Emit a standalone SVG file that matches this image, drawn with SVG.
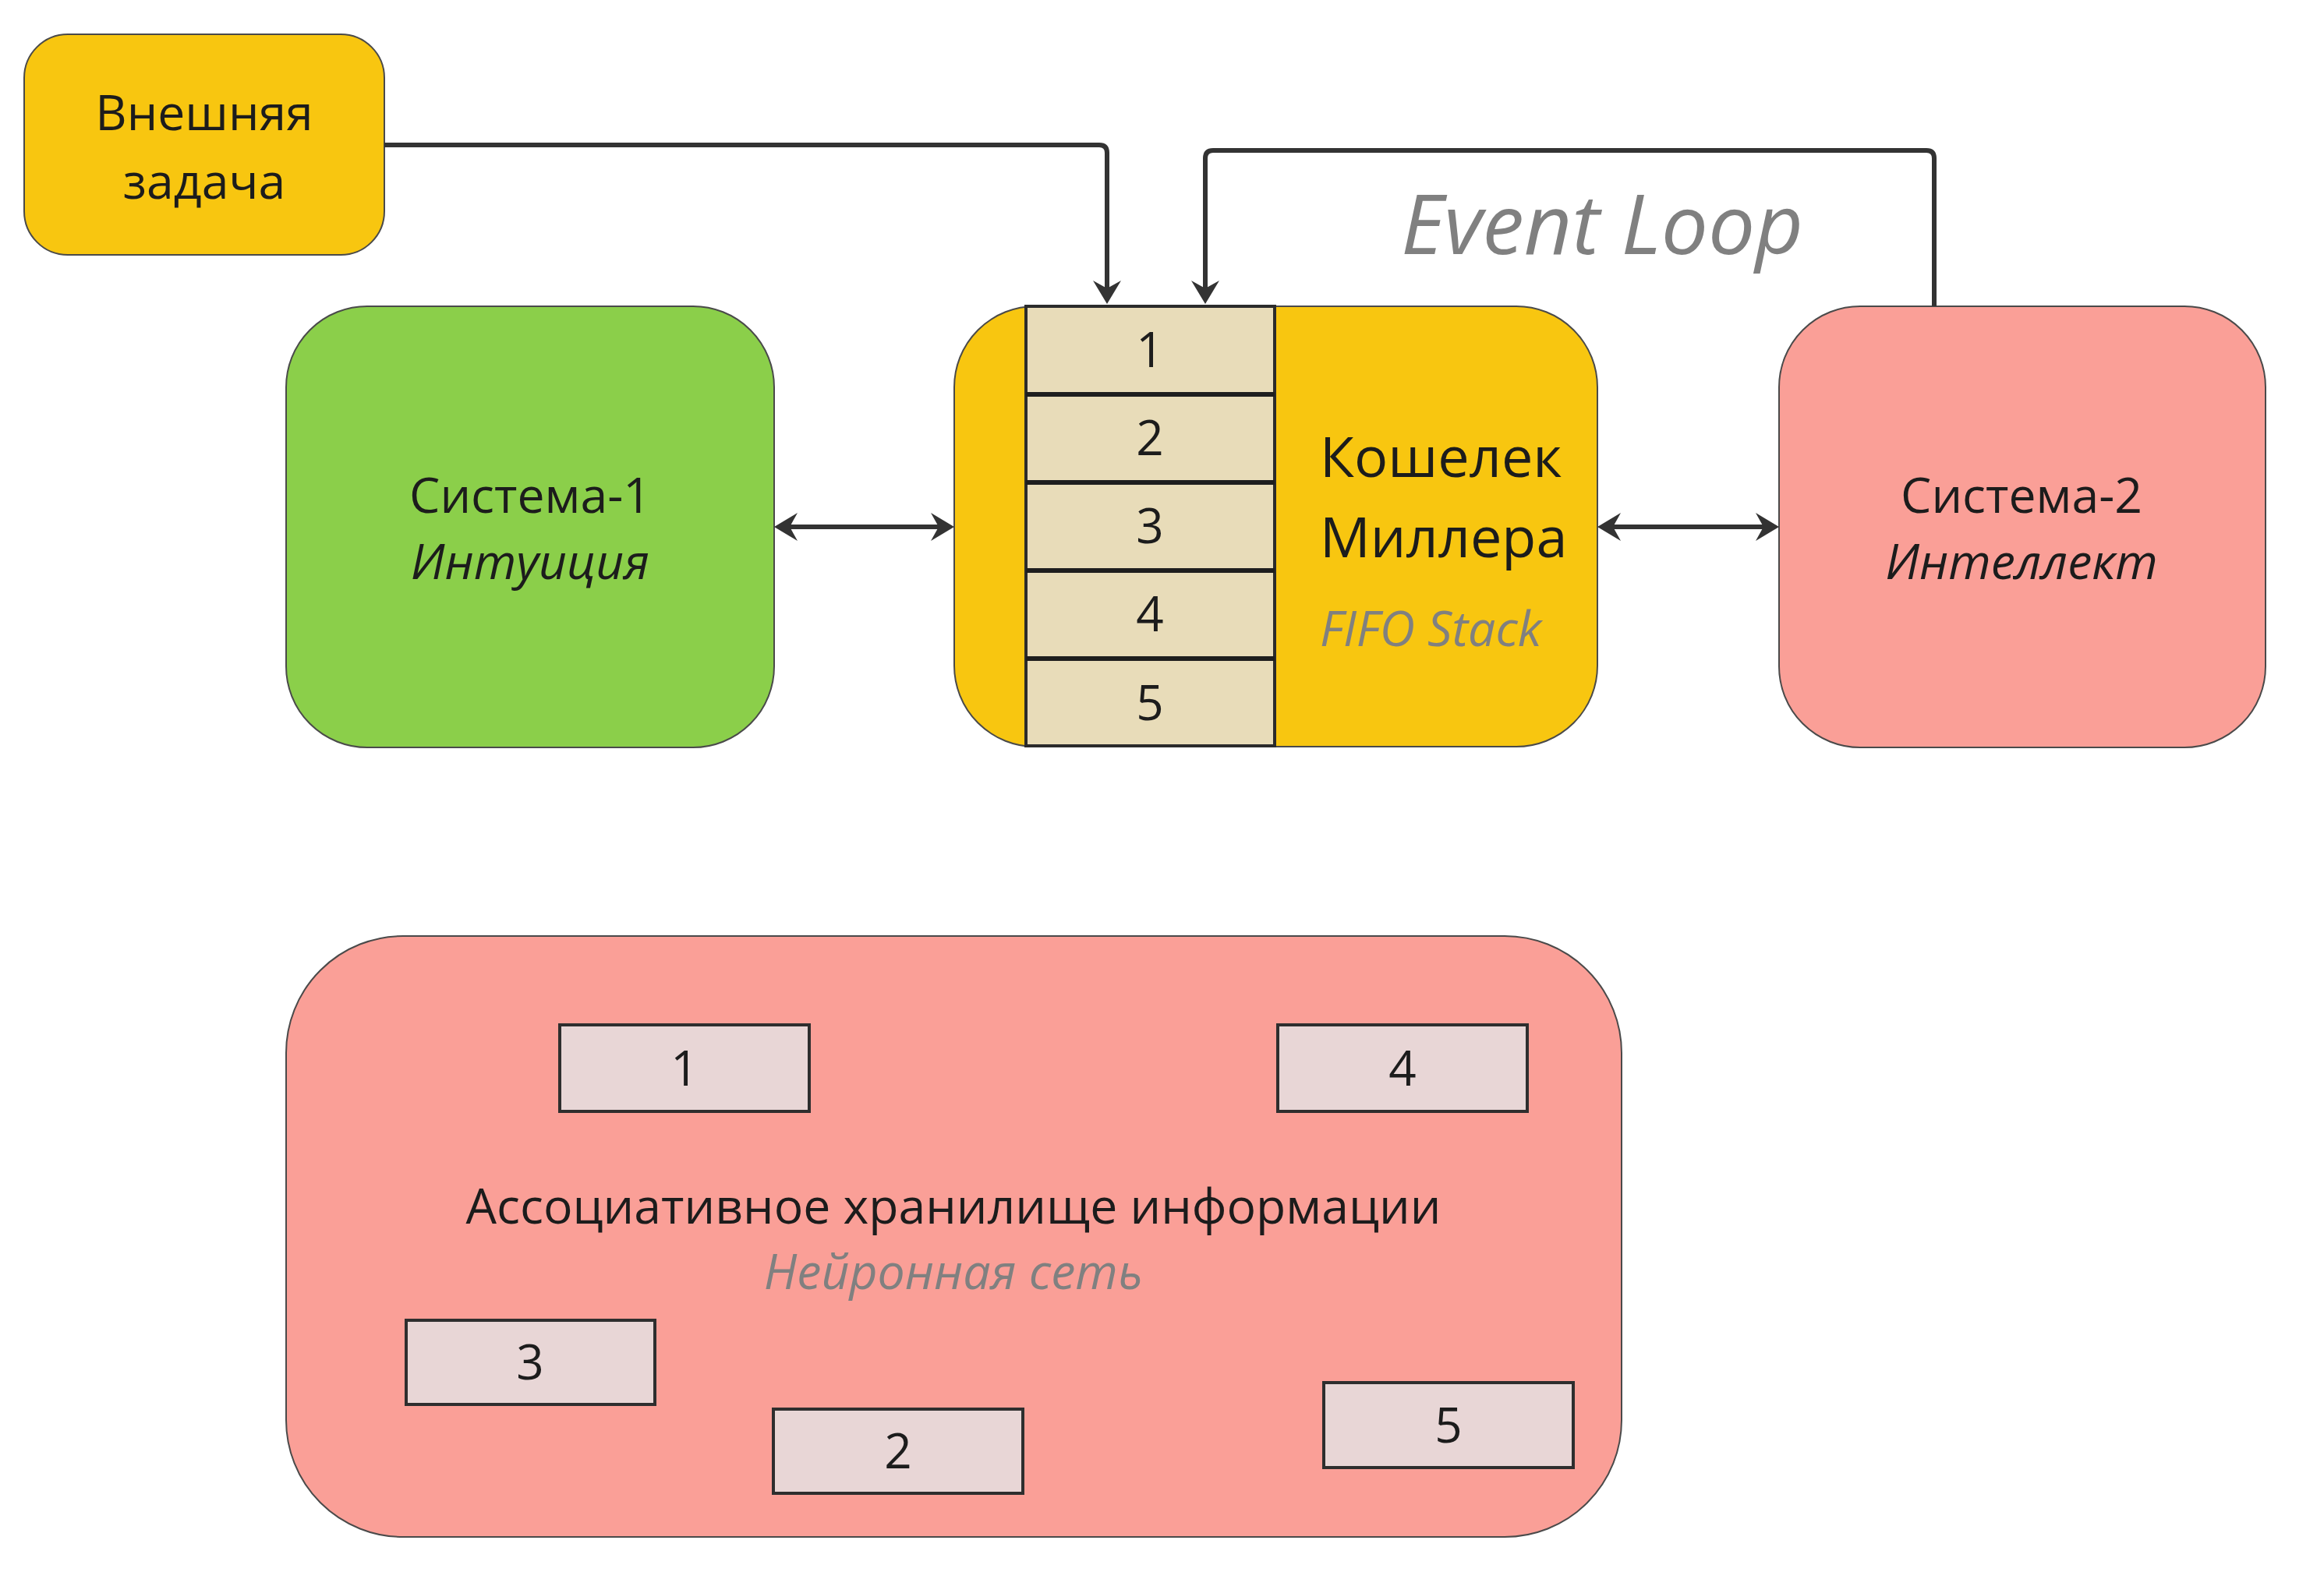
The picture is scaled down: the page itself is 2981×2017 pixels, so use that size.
<svg xmlns="http://www.w3.org/2000/svg" width="2981" height="2017" viewBox="0 0 2981 2017">
  <style>
    .lbl { font-family: "Open Sans", "Noto Sans", "DejaVu Sans", sans-serif; fill: #1c1c1c; }
    .big { font-size: 62.5px; }
    .num { font-size: 62px; }
    .title { font-size: 72px; }
    .it { font-style: italic; }
    .grey { fill: #808080; }
    .node { stroke: #4a4a4a; stroke-width: 2; }
    .cell { fill: #E8DCB9; stroke: #2b2b2b; stroke-width: 4; }
    .div { stroke: #1e1e1e; stroke-width: 6; }
    .mem { fill: #E8D6D6; stroke: #2e2e2e; stroke-width: 4; }
    .wire { fill: none; stroke: #333333; stroke-width: 6; stroke-linejoin: round; }
  </style>
  <defs>
    <marker id="arrow" viewBox="0 -18 30 36" markerUnits="userSpaceOnUse" markerWidth="30" markerHeight="36" refX="10" refY="0" orient="auto-start-reverse" overflow="visible">
      <path d="M30,0 L0,-18 L10,0 L0,18 Z" fill="#333333"/>
    </marker>
  </defs>

  <rect width="2981" height="2017" fill="#ffffff"/>

  <!-- external task -->
  <g id="external-task">
    <rect class="node" x="31" y="44" width="462" height="283" rx="56" fill="#F8C610"/>
    <text class="lbl big" x="262" y="167" text-anchor="middle">Внешняя</text>
    <text class="lbl big" x="262" y="255" text-anchor="middle">задача</text>
  </g>

  <!-- system 1 -->
  <g id="system-1">
    <rect class="node" x="367" y="393" width="626" height="566" rx="104" fill="#8BCF4A"/>
    <text class="lbl big" x="680" y="658" text-anchor="middle">Система-1</text>
    <text class="lbl big it" x="680" y="743" text-anchor="middle">Интуиция</text>
  </g>

  <!-- Miller's wallet with FIFO stack -->
  <g id="miller-wallet">
    <rect class="node" x="1224" y="393" width="825" height="565" rx="104" fill="#F8C610"/>
    <rect class="cell" x="1316" y="393" width="319" height="564"/>
    <line class="div" x1="1316" y1="506" x2="1635" y2="506"/>
    <line class="div" x1="1316" y1="619" x2="1635" y2="619"/>
    <line class="div" x1="1316" y1="732" x2="1635" y2="732"/>
    <line class="div" x1="1316" y1="845" x2="1635" y2="845"/>
    <g class="lbl num" text-anchor="middle">
      <text x="1475" y="471">1</text>
      <text x="1475" y="584">2</text>
      <text x="1475" y="697">3</text>
      <text x="1475" y="810">4</text>
      <text x="1475" y="924">5</text>
    </g>
    <text class="lbl title" x="1693" y="612">Кошелек</text>
    <text class="lbl title" x="1693" y="715">Миллера</text>
    <text class="lbl big it grey" x="1693" y="829">FIFO Stack</text>
  </g>

  <!-- system 2 -->
  <g id="system-2">
    <rect class="node" x="2282" y="393" width="624" height="566" rx="104" fill="#FA9F97"/>
    <text class="lbl big" x="2593" y="658" text-anchor="middle">Система-2</text>
    <text class="lbl big it" x="2593" y="743" text-anchor="middle">Интеллект</text>
  </g>

  <!-- associative memory -->
  <g id="associative-memory">
    <rect class="node" x="367" y="1201" width="1713" height="771" rx="150" fill="#FA9F97"/>
    <rect class="mem" x="718" y="1315" width="320" height="111"/>
    <rect class="mem" x="1639" y="1315" width="320" height="111"/>
    <rect class="mem" x="521" y="1694" width="319" height="108"/>
    <rect class="mem" x="992" y="1808" width="320" height="108"/>
    <rect class="mem" x="1698" y="1774" width="320" height="109"/>
    <g class="lbl num" text-anchor="middle">
      <text x="878" y="1393">1</text>
      <text x="1799" y="1393">4</text>
      <text x="680" y="1770">3</text>
      <text x="1152" y="1884">2</text>
      <text x="1858" y="1851">5</text>
    </g>
    <text class="lbl big" x="1223" y="1570" text-anchor="middle">Ассоциативное хранилище информации</text>
    <text class="lbl big it grey" x="1223" y="1654" text-anchor="middle">Нейронная сеть</text>
  </g>

  <!-- connectors -->
  <g id="connectors">
    <path class="wire" d="M493,186 H1410 Q1420,186 1420,196 V370" marker-end="url(#arrow)"/>
    <path class="wire" d="M2481,393 V203 Q2481,193 2471,193 H1556 Q1546,193 1546,203 V370" marker-end="url(#arrow)"/>
    <path class="wire" d="M1013,676 H1204" marker-start="url(#arrow)" marker-end="url(#arrow)"/>
    <path class="wire" d="M2069,676 H2262" marker-start="url(#arrow)" marker-end="url(#arrow)"/>
    <text class="lbl it grey" x="2055" y="326" font-size="107" text-anchor="middle">Event Loop</text>
  </g>
</svg>
